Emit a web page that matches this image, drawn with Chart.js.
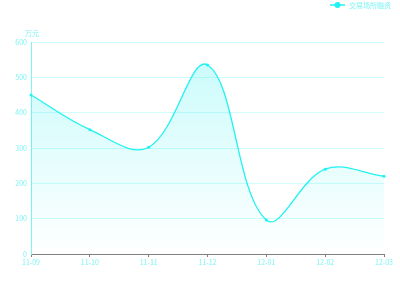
<!DOCTYPE html>
<html lang="zh">
<head>
  <meta charset="UTF-8">
  <title>交易场所融资</title>
  <script src="https://cdn.jsdelivr.net/npm/chart.js"></script>
  <style>
    html, body { margin: 0; padding: 0; background: #fff; }
    #wrap { width: 400px; height: 300px; }
  </style>
</head>
<body>
  <div id="wrap"><canvas id="chart"></canvas></div>
  <script>
    // data
    const categories = ["11-09", "11-10", "11-11", "11-12", "12-01", "12-02", "12-03"];
    const financing = [450, 352, 302, 535, 96, 240, 220];
    const seriesName = "交易场所融资";
    const unitName = "万元";

    const cyan = "#1ff2f2";
    const fontFamily = "'Noto Sans CJK SC', 'Noto Sans', sans-serif";

    // legend + unit label drawn by hand (echarts-like)
    const extras = {
      id: "extras",
      afterDraw(chart) {
        const ctx = chart.ctx;
        const area = chart.chartArea;
        ctx.save();
        ctx.font = "7px " + fontFamily;
        ctx.fillStyle = "#7ff4f4";
        ctx.textBaseline = "middle";
        ctx.textAlign = "left";
        ctx.fillText(unitName, area.left - 6, area.top - 9);

        // legend top-right
        const tx = 349, ty = 5;
        ctx.strokeStyle = cyan;
        ctx.lineWidth = 1.5;
        ctx.beginPath();
        ctx.moveTo(330, ty);
        ctx.lineTo(345, ty);
        ctx.stroke();
        ctx.fillStyle = cyan;
        ctx.beginPath();
        ctx.arc(337.5, ty, 3, 0, Math.PI * 2);
        ctx.fill();
        ctx.fillStyle = "#7ff4f4";
        ctx.fillText(seriesName, tx, ty);
        ctx.restore();
      }
    };

    new Chart(document.getElementById("chart"), {
      type: "line",
      data: {
        labels: categories,
        datasets: [{
          label: seriesName,
          data: financing,
          borderColor: cyan,
          borderWidth: 1.3,
          tension: 0.38,
          pointRadius: 1.5,
          pointBackgroundColor: cyan,
          pointBorderWidth: 0,
          fill: true,
          backgroundColor: (c) => {
            const a = c.chart.chartArea;
            if (!a) return "rgba(0,240,240,0.15)";
            const g = c.chart.ctx.createLinearGradient(0, a.top, 0, a.bottom);
            g.addColorStop(0, "rgba(0,235,235,0.22)");
            g.addColorStop(1, "rgba(0,235,235,0.0)");
            return g;
          }
        }]
      },
      options: {
        responsive: true,
        maintainAspectRatio: false,
        animation: false,
        layout: { padding: { top: 42, right: 16, left: 0, bottom: 0 } },
        plugins: {
          legend: { display: false },
          tooltip: { enabled: false }
        },
        scales: {
          x: {
            offset: false,
            afterFit: (s) => { s.height = 46; },
            border: { color: "#808080", width: 1 },
            grid: { drawOnChartArea: false, drawTicks: true, tickLength: 3, color: "#808080" },
            ticks: { color: "#7ff4f4", font: { size: 7, family: fontFamily }, padding: 1, maxRotation: 0 }
          },
          y: {
            min: 0,
            max: 600,
            afterFit: (s) => { s.width = 31; },
            border: { color: "#7ff4f4", width: 1 },
            grid: { color: "rgba(0,240,240,0.18)", drawTicks: false },
            ticks: { stepSize: 100, color: "#7ff4f4", font: { size: 7, family: fontFamily }, padding: 4 }
          }
        }
      },
      plugins: [extras]
    });
  </script>
</body>
</html>
